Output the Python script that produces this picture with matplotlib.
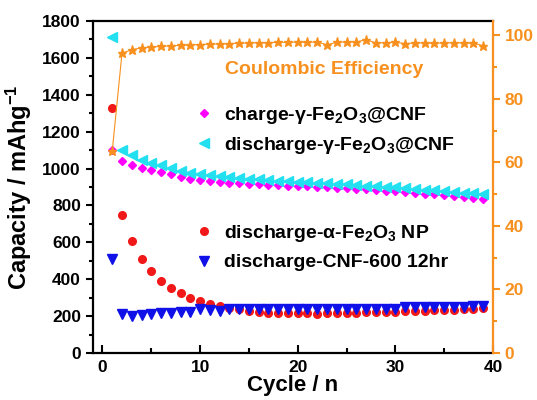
#=======================================================================
# GENERAL DOCUMENTATION ------------------------------------------------
""" Cycling performance of gamma-Fe2O3@CNF vs reference electrodes,
    with coulombic efficiency on a second y axis.
"""

#=======================================================================
# PROGRAM IMPORTS ------------------------------------------------------
import numpy as np
import matplotlib
matplotlib.use("Agg")
import matplotlib.pyplot as plt
from matplotlib.ticker import MultipleLocator

# PROGRAM CONSTANTS ----------------------------------------------------
cycles = np.arange(1, 40)

# charge capacity, gamma-Fe2O3@CNF (mAh/g)
charge_gamma = [1100, 1040, 1018, 1004, 992, 981, 970, 953, 942, 937,
                933, 928, 924, 921, 918, 915, 912, 910, 908, 905,
                903, 901, 899, 897, 894, 891, 888, 884, 880, 876,
                872, 868, 864, 860, 856, 852, 847, 842, 836]

# discharge capacity, gamma-Fe2O3@CNF
discharge_gamma = [1712, 1098, 1071, 1046, 1031, 1018, 1004, 987, 977, 970,
                   963, 957, 953, 949, 945, 941, 937, 934, 931, 928,
                   925, 922, 919, 916, 914, 911, 908, 905, 902, 898,
                   894, 890, 886, 882, 878, 874, 870, 866, 862]

# discharge capacity, alpha-Fe2O3 NP
discharge_alpha = [1330, 750, 609, 509, 444, 391, 353, 323, 299, 283,
                   266, 256, 246, 236, 226, 222, 218, 217, 216, 215,
                   215, 214, 216, 216, 218, 219, 220, 221, 222, 224,
                   226, 228, 229, 231, 233, 235, 237, 240, 245]

# discharge capacity, CNF-600 12hr
discharge_cnf = [512, 212, 201, 208, 214, 219, 216, 223, 222, 237,
                 234, 229, 236, 237, 237, 237, 238, 237, 236, 237,
                 237, 236, 237, 237, 238, 238, 237, 237, 238, 240,
                 247, 249, 247, 248, 250, 252, 252, 253, 257]

# coulombic efficiency (%)
coulombic_eff = [63.5, 94.3, 95.5, 96.0, 96.3, 96.5, 96.7, 96.8, 97.0, 97.1,
                 97.2, 97.3, 97.4, 97.5, 97.6, 97.7, 97.7, 97.8, 97.8, 97.9,
                 97.8, 97.9, 97.0, 97.8, 97.9, 97.9, 98.6, 97.6, 97.7, 97.8,
                 97.4, 97.6, 97.6, 97.5, 97.6, 97.7, 97.6, 97.5, 96.7]

ORANGE = "#F7901E"
FONT = "Liberation Sans"

#=======================================================================
# PROGRAM SCRIPT -------------------------------------------------------
plt.rcParams["font.family"] = [FONT, "DejaVu Sans"]
plt.rcParams["font.weight"] = "bold"
plt.rcParams["mathtext.fontset"] = "custom"
plt.rcParams["mathtext.rm"] = FONT + ":bold"
plt.rcParams["mathtext.it"] = FONT + ":bold"
plt.rcParams["mathtext.bf"] = FONT + ":bold"

fig = plt.figure(figsize=(5.37, 4.00), dpi=100)
ax = fig.add_axes([0.1726, 0.1175, 0.7454, 0.83])
ax2 = ax.twinx()

# capacity series on the left axis
p1, = ax.plot(cycles, charge_gamma, ls="none", marker="D", ms=4.5,
              color="#FF00FF", label=r"charge-$\gamma$-Fe$_2$O$_3$@CNF")
p2, = ax.plot(cycles, discharge_gamma, ls="none", marker="<", ms=6.5,
              color="#22E0F0", label=r"discharge-$\gamma$-Fe$_2$O$_3$@CNF")
p3, = ax.plot(cycles, discharge_alpha, ls="none", marker="o", ms=5.5,
              color="#F01818", label=r"discharge-$\alpha$-Fe$_2$O$_3$ NP")
p4, = ax.plot(cycles, discharge_cnf, ls="none", marker="v", ms=6.5,
              color="#1010E8", label="discharge-CNF-600 12hr")

# coulombic efficiency on the right axis
ax2.plot(cycles, coulombic_eff, color=ORANGE, lw=0.8, marker="*", ms=6.5)

# axis limits and ticks
ax.set_xlim(-1, 40)
ax.set_ylim(0, 1800)
ax2.set_ylim(0, 104.5)
ax.xaxis.set_major_locator(MultipleLocator(10))
ax.xaxis.set_minor_locator(MultipleLocator(5))
ax.yaxis.set_major_locator(MultipleLocator(200))
ax.yaxis.set_minor_locator(MultipleLocator(100))
ax2.yaxis.set_major_locator(MultipleLocator(20))
ax2.yaxis.set_minor_locator(MultipleLocator(10))

ax.tick_params(axis="x", which="both", direction="in", top=False,
               width=1.5, labelsize=12.5, pad=5)
ax.tick_params(axis="x", which="major", length=6)
ax.tick_params(axis="x", which="minor", length=3.5)
ax.tick_params(axis="y", which="both", direction="out", width=1.5,
               labelsize=12.5)
ax.tick_params(axis="y", which="major", length=5)
ax.tick_params(axis="y", which="minor", length=3)
ax2.tick_params(axis="y", which="both", direction="out", width=1.5,
                colors=ORANGE, labelsize=12.5)
ax2.tick_params(axis="y", which="major", length=5)
ax2.tick_params(axis="y", which="minor", length=3)

for lab in ax.get_xticklabels() + ax.get_yticklabels() + ax2.get_yticklabels():
    lab.set_fontweight("bold")

# spines
for side in ["left", "bottom", "top"]:
    ax.spines[side].set_linewidth(1.6)
ax.spines["right"].set_visible(False)
ax2.spines["right"].set_color(ORANGE)
ax2.spines["right"].set_linewidth(1.6)
for side in ["left", "bottom", "top"]:
    ax2.spines[side].set_visible(False)

ax.set_xlabel("Cycle / n", fontsize=16, fontweight="bold", labelpad=0)
ax.set_ylabel(r"Capacity / mAhg$^{-1}$", fontsize=17, fontweight="bold",
              labelpad=6)

# legends and annotation
ax2.text(0.33, 0.853, "Coulombic Efficiency", transform=ax2.transAxes,
         color=ORANGE, fontsize=14, fontweight="bold", va="center")

leg1 = ax2.legend(handles=[p1, p2], loc="upper left",
                  bbox_to_anchor=(0.235, 0.77), frameon=False,
                  fontsize=14, handlelength=1.0, handletextpad=0.5,
                  labelspacing=0.45, borderaxespad=0)
ax2.add_artist(leg1)
ax2.legend(handles=[p3, p4], loc="upper left",
           bbox_to_anchor=(0.235, 0.415), frameon=False,
           fontsize=14, handlelength=1.0, handletextpad=0.5,
           labelspacing=0.5, borderaxespad=0)

fig.savefig("out.png", dpi=100)

#=======================================================================
# END FILE
